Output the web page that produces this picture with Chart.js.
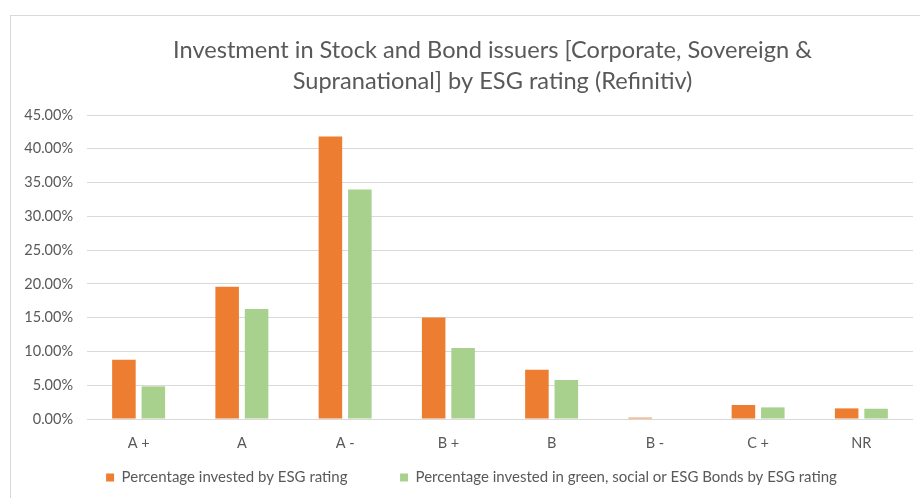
<!DOCTYPE html>
<html>
<head>
<meta charset="utf-8">
<script src="https://cdn.jsdelivr.net/npm/chart.js@4/dist/chart.umd.min.js"></script>
<style>
  html, body { margin: 0; padding: 0; background: #fff; overflow: hidden; }
  #frame { position: absolute; left: 10px; top: 15px; width: 940px; height: 520px; border: 1px solid #d9d9d9; }
  #wrap { position: absolute; left: 0; top: 0; width: 920px; height: 498px; }
</style>
</head>
<body>
<div id="frame"></div>
<div id="wrap"><canvas id="chart"></canvas></div>
<script>
  "use strict";

  const ratings = ["A +", "A", "A -", "B +", "B", "B -", "C +", "NR"];
  const investedShare = [0.0877, 0.1957, 0.418, 0.1503, 0.0729, 0.002, 0.0207, 0.0157];
  const greenBondShare = [0.0483, 0.163, 0.3397, 0.105, 0.0577, 0, 0.0172, 0.0152];
  const seriesNames = [
    "Percentage invested by ESG rating",
    "Percentage invested in green, social or ESG Bonds by ESG rating",
  ];
  const titleLines = [
    "Investment in Stock and Bond issuers [Corporate, Sovereign &",
    "Supranational] by ESG rating (Refinitiv)",
  ];
  const yMax = 0.45;
  const yStep = 0.05;

  const textColor = "#595959";
  const gridColor = "#d9d9d9";
  const fontFamily = "Lato";

  // title drawn by hand so it can sit a little left of the plot centre
  const titlePlugin = {
    id: "twoLineTitle",
    afterDraw(chart) {
      const c = chart.ctx;
      c.save();
      c.font = "23.6px " + fontFamily;
      c.fillStyle = textColor;
      c.textAlign = "center";
      c.textBaseline = "middle";
      titleLines.forEach((line, i) => c.fillText(line, 492.5, 50 + i * 31));
      c.restore();
    },
  };

  // nudge the legend row a bit to the right, like the original
  const legendShift = {
    id: "legendShift",
    afterLayout(chart) {
      chart.legend.left += 5;
      chart.legend.right += 5;
    },
  };

  const ctx = document.getElementById("chart").getContext("2d");
  new Chart(ctx, {
    type: "bar",
    data: {
      labels: ratings,
      datasets: [
        {
          label: seriesNames[0],
          data: investedShare,
          backgroundColor: "#ed7d31",
          borderWidth: 0,
        },
        {
          label: seriesNames[1],
          data: greenBondShare,
          backgroundColor: "#a9d18e",
          borderWidth: 0,
        },
      ],
    },
    options: {
      animation: false,
      responsive: true,
      maintainAspectRatio: false,
      datasets: { bar: { categoryPercentage: 0.57, barPercentage: 0.8 } },
      layout: { padding: { left: 20, right: 7, top: 115, bottom: 3 } },
      plugins: {
        title: { display: false },
        tooltip: { enabled: false },
        legend: {
          position: "bottom",
          labels: {
            boxWidth: 8,
            boxHeight: 8,
            padding: 18,
            color: textColor,
            font: { family: fontFamily, size: 15 },
            // extra room after the first entry
            generateLabels: (chart) =>
              Chart.defaults.plugins.legend.labels
                .generateLabels(chart)
                .map((item, i) => {
                  if (i === 0) item.text = item.text + " ".repeat(9);
                  return item;
                }),
          },
        },
      },
      scales: {
        x: {
          grid: { display: false, drawTicks: false },
          border: { display: false },
          ticks: { color: textColor, padding: 16, font: { family: fontFamily, size: 14.5 } },
          afterFit: (scale) => { scale.height = 33; },
        },
        y: {
          min: 0,
          max: yMax,
          grid: { color: gridColor, drawTicks: false },
          border: { display: false },
          ticks: {
            stepSize: yStep,
            padding: 14,
            color: textColor,
            font: { family: fontFamily, size: 14.5 },
            callback: (v) => (v * 100).toFixed(2) + "%",
          },
          afterFit: (scale) => { scale.width = 67; },
        },
      },
    },
    plugins: [titlePlugin, legendShift],
  });
</script>
</body>
</html>
